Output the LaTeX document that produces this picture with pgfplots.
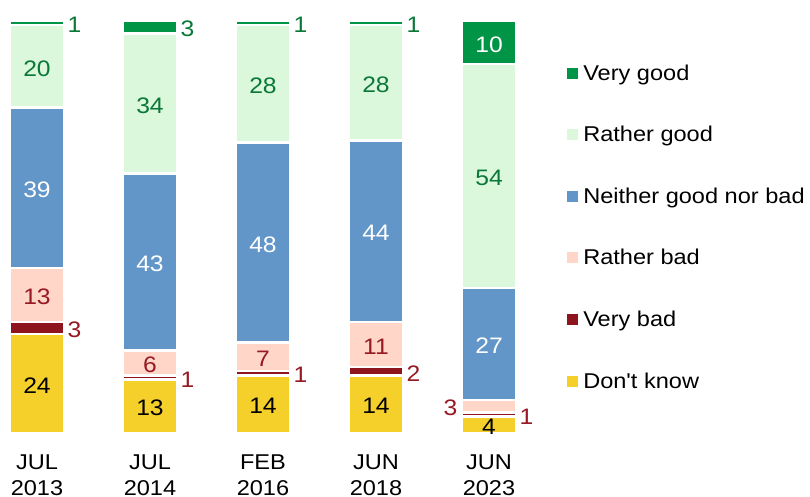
\documentclass[border=0pt]{standalone}
\usepackage{fontspec}
\setmainfont{Liberation Sans}[Ligatures=TeXOff, FakeStretch=1.1]
\usepackage{pgfplots}
\usepackage{pgfplotstable}
\pgfplotsset{compat=1.18}
\definecolor{cVG}{RGB}{0,148,70}
\definecolor{cRG}{RGB}{220,248,220}
\definecolor{cN}{RGB}{98,150,200}
\definecolor{cRB}{RGB}{255,214,200}
\definecolor{cVB}{RGB}{142,20,30}
\definecolor{cDK}{RGB}{245,208,42}
\definecolor{tGreen}{RGB}{10,120,55}
\definecolor{tRed}{RGB}{150,25,35}

\pgfplotstableread{
x dk vb rb n rg vg
0 24 3 13 39 20 1
1 13 1 6 43 34 3
2 14 1 7 48.5 28.5 1
3 14 2 11 44 28 1
4 4 1 3 27.2 54.4 10.4
}\data

% label positions (segment midpoints)
\pgfplotstableread{
x y label
0 59.5 39
1 41.5 43
2 46.25 48
3 49 44
4 21.6 27
4 94.8 10
}\labWhite
\pgfplotstableread{
x y label
0 89 20
1 80 34
2 84.75 28
3 85 28
4 62.4 54
}\labGreen
\pgfplotstableread{
x y label
0.2434 99.5 1
1.2434 98.5 3
2.2434 99.5 1
3.2434 99.5 1
}\labGreenR
\pgfplotstableread{
x y label
0 33.5 13
1 17 6
2 18.5 7
3 21.5 11
}\labRed
\pgfplotstableread{
x y label
0.2434 25.5 3
1.2434 13.5 1
2.2434 14.5 1
3.2434 15 2
4.2434 4.5 1
}\labRedR
\pgfplotstableread{
x y label
3.7566 6.5 3
}\labRedL
\pgfplotstableread{
x y label
0 12 24
1 6.5 13
2 7 14
3 7 14
4 2 4
}\labBlack

\begin{document}
\begin{tikzpicture}
\path[use as bounding box] (0,0) rectangle (810bp,497bp);
\pgfplotsset{
  common/.style={
    at={(3.1bp,64bp)}, anchor=south west,
    scale only axis, width=519.8bp, height=412bp,
    xmin=-0.3, xmax=4.3, ymin=0, ymax=100,
  },
}
\begin{axis}[
  common,
  ybar stacked, bar width=55bp,
  axis line style={draw=none},
  ytick=\empty,
  xtick={0,1,2,3,4},
  xticklabels={{JUL\\2013},{JUL\\2014},{FEB\\2016},{JUN\\2018},{JUN\\2023}},
  major tick length=0pt,
  xticklabel style={font=\fontsize{21.5}{26}\selectfont, align=center, anchor=north, inner sep=0pt, yshift=-21.5bp},
  every axis plot/.append style={draw=white, line width=2.5bp},
  reverse legend,
  legend cell align=left,
  legend style={at={(1.0849,0.8956)}, anchor=north west, draw=none, fill=none,
    inner sep=0pt, outer sep=0pt, row sep=40.6bp,
    font=\fontsize{21.5}{26}\selectfont,
    nodes={inner sep=0pt, outer sep=0pt, text height=16bp, text depth=5bp}},
  legend image code/.code={\fill[#1, draw=none] (0bp,-4bp) rectangle (11bp,7bp); \path (15bp,0bp);},
]
\addplot[fill=cDK] table[x=x,y=dk] {\data};
\addlegendentry{Don't know}
\addplot[fill=cVB] table[x=x,y=vb] {\data};
\addlegendentry{Very bad}
\addplot[fill=cRB] table[x=x,y=rb] {\data};
\addlegendentry{Rather bad}
\addplot[fill=cN] table[x=x,y=n] {\data};
\addlegendentry{Neither good nor bad}
\addplot[fill=cRG] table[x=x,y=rg] {\data};
\addlegendentry{Rather good}
\addplot[fill=cVG] table[x=x,y=vg] {\data};
\addlegendentry{Very good}
\end{axis}

\begin{axis}[
  common, hide axis,
  every axis plot/.append style={draw=none, mark=none, nodes near coords, point meta=explicit symbolic},
  nodes near coords style={font=\fontsize{22.5}{26}\selectfont, inner sep=0pt, yshift=-2bp},
]
\addplot[nodes near coords style={white, anchor=center}] table[x=x,y=y,meta=label] {\labWhite};
\addplot[nodes near coords style={tGreen, anchor=center}] table[x=x,y=y,meta=label] {\labGreen};
\addplot[nodes near coords style={tGreen, anchor=west, xshift=3bp}] table[x=x,y=y,meta=label] {\labGreenR};
\addplot[nodes near coords style={tRed, anchor=center}] table[x=x,y=y,meta=label] {\labRed};
\addplot[nodes near coords style={tRed, anchor=west, xshift=3bp}] table[x=x,y=y,meta=label] {\labRedR};
\addplot[nodes near coords style={tRed, anchor=east, xshift=-4bp}] table[x=x,y=y,meta=label] {\labRedL};
\addplot[nodes near coords style={black, anchor=center}] table[x=x,y=y,meta=label] {\labBlack};
\end{axis}
\end{tikzpicture}
\end{document}
